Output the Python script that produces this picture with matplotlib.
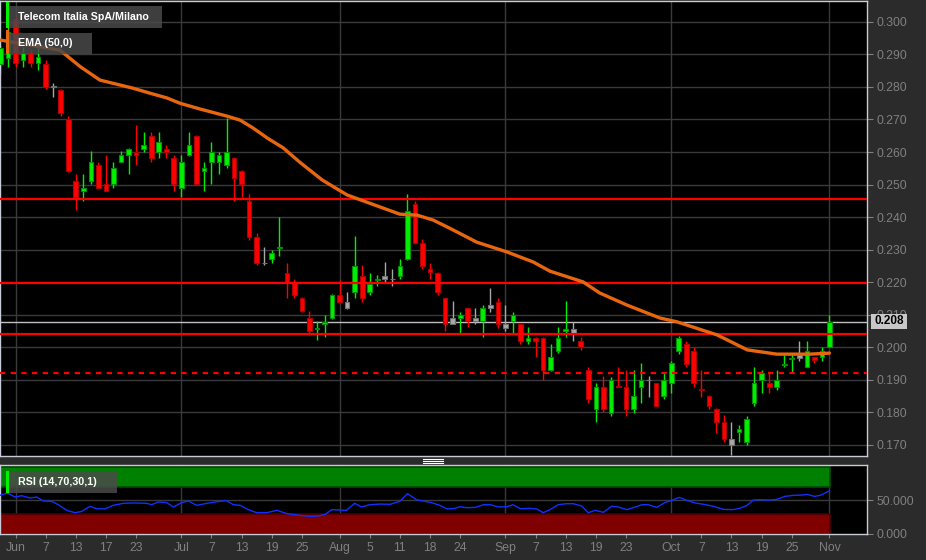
import numpy as np
import matplotlib.pyplot as plt
from matplotlib.patches import Rectangle
from matplotlib.lines import Line2D

plt.rcParams['font.family'] = ['Liberation Sans', 'DejaVu Sans']

# daily candles, index 0 = 1 Jun (trading days), two earlier days cut off at left
idx = np.arange(-2, 109)
opens = [0.2870, 0.2890, 0.3010, 0.2883, 0.2903, 0.2872, 0.2870, 0.2801, 0.2790, 0.2700,
         0.2511, 0.2481, 0.2511, 0.2560, 0.2501, 0.2501, 0.2570, 0.2590, 0.2600, 0.2610,
         0.2650, 0.2600, 0.2610, 0.2581, 0.2490, 0.2590, 0.2650, 0.2541, 0.2570, 0.2570,
         0.2560, 0.2581, 0.2541, 0.2450, 0.2340, 0.2260, 0.2270, 0.2306, 0.2229, 0.2201,
         0.2151, 0.2090, 0.2057, 0.2072, 0.2091, 0.2161, 0.2120, 0.2171, 0.2219, 0.2171,
         0.2207, 0.2219, 0.2209, 0.2220, 0.2270, 0.2440, 0.2319, 0.2240, 0.2229, 0.2150,
         0.2089, 0.2091, 0.2120, 0.2091, 0.2081, 0.2130, 0.2140, 0.2060, 0.2081, 0.2071,
         0.2020, 0.2030, 0.2030, 0.1930, 0.1990, 0.2051, 0.2045, 0.2019, 0.1930, 0.1810,
         0.1879, 0.1799, 0.1882, 0.1879, 0.1810, 0.1879, 0.1900, 0.1889, 0.1850, 0.1889,
         0.1990, 0.2010, 0.1990, 0.1872, 0.1850, 0.1810, 0.1770, 0.1699, 0.1740, 0.1709,
         0.1830, 0.1900, 0.1889, 0.1879, 0.1946, 0.1965, 0.1975, 0.1940, 0.1971, 0.1971,
         0.2000]
highs = [0.2930, 0.3060, 0.3020, 0.2923, 0.2917, 0.2923, 0.2882, 0.2812, 0.2795, 0.2711,
         0.2532, 0.2532, 0.2603, 0.2570, 0.2590, 0.2570, 0.2603, 0.2612, 0.2683, 0.2661,
         0.2661, 0.2661, 0.2621, 0.2590, 0.2590, 0.2661, 0.2652, 0.2570, 0.2631, 0.2600,
         0.2705, 0.2585, 0.2545, 0.2470, 0.2350, 0.2309, 0.2300, 0.2399, 0.2260, 0.2210,
         0.2155, 0.2111, 0.2081, 0.2099, 0.2163, 0.2207, 0.2169, 0.2342, 0.2253, 0.2229,
         0.2222, 0.2261, 0.2240, 0.2270, 0.2471, 0.2450, 0.2332, 0.2260, 0.2231, 0.2152,
         0.2142, 0.2109, 0.2122, 0.2120, 0.2130, 0.2181, 0.2150, 0.2130, 0.2109, 0.2073,
         0.2061, 0.2031, 0.2032, 0.2010, 0.2061, 0.2143, 0.2079, 0.2031, 0.1939, 0.1889,
         0.1912, 0.1910, 0.1939, 0.1930, 0.1930, 0.1951, 0.1912, 0.1890, 0.1920, 0.1959,
         0.2035, 0.2020, 0.2000, 0.1930, 0.1852, 0.1812, 0.1791, 0.1770, 0.1760, 0.1790,
         0.1939, 0.1930, 0.1920, 0.1930, 0.1982, 0.1982, 0.2020, 0.2020, 0.1971, 0.2000,
         0.2099]
lows = [0.2840, 0.2860, 0.2861, 0.2862, 0.2862, 0.2852, 0.2793, 0.2769, 0.2711, 0.2538,
        0.2422, 0.2450, 0.2501, 0.2488, 0.2479, 0.2490, 0.2568, 0.2531, 0.2560, 0.2600,
        0.2570, 0.2581, 0.2581, 0.2480, 0.2461, 0.2588, 0.2499, 0.2480, 0.2501, 0.2531,
        0.2550, 0.2450, 0.2461, 0.2330, 0.2253, 0.2253, 0.2260, 0.2281, 0.2151, 0.2151,
        0.2108, 0.2038, 0.2023, 0.2033, 0.2088, 0.2137, 0.2118, 0.2150, 0.2140, 0.2161,
        0.2188, 0.2201, 0.2188, 0.2209, 0.2268, 0.2319, 0.2240, 0.2209, 0.2161, 0.2050,
        0.2071, 0.2041, 0.2063, 0.2071, 0.2031, 0.2109, 0.2060, 0.2051, 0.2041, 0.2009,
        0.2009, 0.1971, 0.1900, 0.1928, 0.1982, 0.2033, 0.2020, 0.1992, 0.1830, 0.1769,
        0.1802, 0.1789, 0.1877, 0.1789, 0.1799, 0.1830, 0.1848, 0.1819, 0.1840, 0.1859,
        0.1979, 0.1939, 0.1879, 0.1848, 0.1810, 0.1738, 0.1709, 0.1669, 0.1709, 0.1699,
        0.1820, 0.1859, 0.1859, 0.1869, 0.1939, 0.1922, 0.1959, 0.1940, 0.1951, 0.1959,
        0.2000]
closes = [0.2920, 0.2970, 0.2873, 0.2903, 0.2872, 0.2891, 0.2801, 0.2801, 0.2721, 0.2541,
          0.2461, 0.2490, 0.2570, 0.2490, 0.2481, 0.2550, 0.2590, 0.2610, 0.2590, 0.2621,
          0.2581, 0.2631, 0.2600, 0.2501, 0.2570, 0.2621, 0.2501, 0.2550, 0.2600, 0.2590,
          0.2600, 0.2520, 0.2501, 0.2340, 0.2260, 0.2260, 0.2290, 0.2309, 0.2201, 0.2161,
          0.2111, 0.2050, 0.2060, 0.2079, 0.2161, 0.2140, 0.2140, 0.2250, 0.2150, 0.2194,
          0.2209, 0.2209, 0.2209, 0.2250, 0.2420, 0.2321, 0.2251, 0.2231, 0.2171, 0.2071,
          0.2071, 0.2099, 0.2081, 0.2081, 0.2120, 0.2120, 0.2071, 0.2071, 0.2099, 0.2020,
          0.2030, 0.2020, 0.1930, 0.1969, 0.2030, 0.2055, 0.2055, 0.2002, 0.1840, 0.1879,
          0.1810, 0.1900, 0.1879, 0.1810, 0.1850, 0.1900, 0.1900, 0.1820, 0.1900, 0.1951,
          0.2030, 0.1949, 0.1889, 0.1869, 0.1820, 0.1770, 0.1719, 0.1719, 0.1750, 0.1780,
          0.1889, 0.1920, 0.1879, 0.1900, 0.1949, 0.1968, 0.1968, 0.1990, 0.1961, 0.1989,
          0.2079]

# EMA(50)
ema_x = [-2.0, 5.9, 8.6, 11.2, 15.6, 17.8, 20.1, 21.8, 24.5, 28.1, 29.8, 31.5, 33.4, 35.5,
         37.7, 40.7, 44.0, 46.6, 51.0, 53.3, 55.4, 57.6, 61.2, 65.2, 68.7, 70.9, 75.3, 77.5,
         81.1, 85.5, 87.8, 89.9, 93.1, 97.1, 101.0, 105.4, 108.0]
ema_v = [0.2944, 0.2913, 0.2862, 0.2821, 0.2796, 0.2781, 0.2766, 0.2750, 0.2732, 0.2710,
         0.2698, 0.2674, 0.2643, 0.2613, 0.2569, 0.2514, 0.2468, 0.2446, 0.2409, 0.2406,
         0.2391, 0.2366, 0.2323, 0.2293, 0.2262, 0.2234, 0.2201, 0.2167, 0.2130, 0.2090,
         0.2078, 0.2062, 0.2038, 0.1992, 0.1979, 0.1979, 0.1982]

levels = [0.2456, 0.2198, 0.2040]
dashed_level = 0.1922

# RSI(14)
rsi_x = [-2.06, -1.09, -0.07, 0.82, 1.92, 2.81, 3.69, 4.8, 5.68, 6.79, 7.9, 8.78, 9.88, 10.77,
         11.87, 12.98, 14.3, 15.6, 17.4, 18.07, 18.95, 20.06, 20.94, 22.05, 22.93, 24.04, 25.4,
         27.1, 28.0, 28.9, 29.8, 30.9, 32.0, 33.3, 34.7, 36.0, 37.7, 39.1, 40.2, 41.1, 41.95,
         43.9, 45.0, 45.9, 47.0, 48.4, 49.7, 51.0, 52.0, 53.2, 54.3, 55.2, 56.3, 57.2, 58.1,
         59.0, 59.9, 61.0, 62.1, 63.0, 64.1, 65.2, 66.0, 67.0, 68.3, 69.2, 70.0, 70.9, 72.0,
         73.1, 74.0, 75.1, 76.0, 76.9, 78.0, 79.1, 79.97, 81.1, 81.97, 83.1, 83.96, 85.1, 86.2,
         87.1, 88.07, 89.05, 90.2, 91.3, 92.6, 93.9, 95.2, 96.1, 97.0, 97.9, 98.8, 100.1, 101.0,
         102.1, 103.2, 104.5, 104.97, 106.05, 106.9, 108.0]
rsi_v = [57.5, 60.9, 54.9, 56.9, 53.4, 54.9, 49.0, 48.5, 43.4, 35.0, 31.4, 33.4, 41.0, 37.4,
         37.0, 42.5, 45.5, 46.0, 45.5, 43.5, 47.5, 46.5, 40.0, 46.5, 49.0, 42.5, 45.5,
         48.5, 49.5, 43.4, 42.5, 36.0, 31.4, 31.4, 35.0, 30.0, 27.5, 26.0, 26.5, 29.0, 36.0,
         35.0, 45.5, 40.0, 43.4, 44.4, 44.0, 48.5, 59.9, 50.9, 48.5, 46.5, 42.5, 37.4, 37.4,
         40.4, 38.9, 39.4, 43.4, 43.4, 40.0, 40.4, 43.4, 37.4, 37.9, 37.0, 31.4, 36.0, 43.4,
         44.9, 44.9, 41.5, 31.4, 35.0, 32.0, 41.0, 40.0, 36.0, 38.9, 43.4, 43.4, 39.4, 46.9,
         49.9, 54.4, 49.9, 46.0, 44.0, 41.0, 36.5, 36.0, 38.0, 42.0, 50.4, 50.9, 50.4, 51.4,
         55.9, 57.4, 57.9, 58.9, 55.9, 57.9, 64.4]

tick_idx = [0, 4, 8, 12, 16, 22, 26, 30, 34, 38, 43, 47, 51, 55, 59, 65, 69, 73, 77, 81,
            87, 91, 95, 99, 103, 108]
tick_lab = ['Jun', '7', '13', '17', '23', 'Jul', '7', '13', '19', '25', 'Aug', '5', '11', '18',
            '24', 'Sep', '7', '13', '19', '23', 'Oct', '7', '13', '19', '25', 'Nov']
month_idx = [0, 22, 43, 65, 87, 108]

W, H = 926, 560
BG = '#2b2b2b'
GRID = '#3a3a3a'
TXT = '#808080'
SPINE = '#c8ccd8'

fig = plt.figure(figsize=(W / 100, H / 100), dpi=100, facecolor=BG)
ax = fig.add_axes([0, 104 / H, 867 / W, 455 / H])
rx = fig.add_axes([0, 26.3 / H, 867 / W, 68.4 / H])

xlim = (-2.06, 112.98)
for a in (ax, rx):
    a.set_facecolor('black')
    a.set_xlim(*xlim)
    for s in a.spines.values():
        s.set_color(SPINE)
        s.set_linewidth(1)
    a.yaxis.tick_right()
    a.tick_params(axis='y', colors=TXT, length=4, labelsize=8.8, pad=3)
    for m in month_idx:
        a.axvline(m, color=GRID, lw=1, zorder=0.5)

# price panel
ax.set_ylim(0.1666, 0.3064)
yt = np.arange(0.17, 0.3001, 0.01)
ax.set_yticks(yt)
ax.set_yticklabels([f'{v:.3f}' for v in yt])
ax.set_xticks([])
ax.yaxis.grid(True, color=GRID, lw=1)
ax.set_axisbelow(True)

opens = np.array(opens)
closes = np.array(closes)
for k, x in enumerate(idx):
    o, c = opens[k], closes[k]
    if k > 0 and np.isclose(c, closes[k - 1]):
        fill, edge = '#a8a8a8', '#707070'
    elif c >= o:
        fill, edge = '#00f000', '#009000'
    else:
        fill, edge = '#ff0000', '#b00000'
    ax.vlines(x, lows[k], highs[k], color=fill, lw=1, zorder=2)
    bottom = min(o, c)
    height = max(abs(c - o), 0.00004)
    ax.bar(x, height, bottom=bottom, width=0.62, color=fill, edgecolor=edge, lw=0.8, zorder=3)

last = closes[-1]
ax.axhline(last, color='#c0c0c0', lw=1, zorder=1.5)
for lv in levels:
    ax.axhline(lv, color='#ff0000', lw=1.6, zorder=4)
ax.axhline(dashed_level, color='#ff0000', lw=1.6, ls=(0, (2.4, 2.4)), zorder=4)
ax.plot(ema_x, ema_v, color='#e8660e', lw=2.4, zorder=5, solid_capstyle='round')

# rsi panel
rx.set_ylim(0, 102.4)
rx.set_yticks([0, 50])
rx.set_yticklabels(['0.000', '50.000'])
rx.axhline(50, color=GRID, lw=1, zorder=0.5)
rx.add_patch(Rectangle((xlim[0], 70), 108.07 - xlim[0], 30, facecolor='#008000',
                       edgecolor='#004a00', lw=1.2, zorder=1))
rx.add_patch(Rectangle((xlim[0], 0), 108.07 - xlim[0], 30, facecolor='#800000',
                       edgecolor='#4a0000', lw=1.2, zorder=1))
rx.plot(rsi_x, rsi_v, color='#1030ff', lw=1, zorder=3)
rx.set_xticks(tick_idx)
rx.set_xticklabels(tick_lab)
rx.tick_params(axis='x', colors=TXT, length=3, labelsize=8.8, pad=3)


def fx(x):
    return x / W


def fy(y):
    return 1 - y / H


def box(x0, y0, x1, y1, color, alpha=1.0, z=10):
    fig.add_artist(Rectangle((fx(x0), fy(y1)), fx(x1 - x0), (y1 - y0) / H,
                             transform=fig.transFigure, facecolor=color, alpha=alpha,
                             edgecolor='none', zorder=z))


# legend boxes
box(9, 6, 162, 28, '#4a4a4a', 0.85)
box(6, 2, 8.5, 28, '#00f000', 1, 11)
fig.text(fx(18), fy(17), 'Telecom Italia SpA/Milano', color='white', fontsize=7.7,
         weight='bold', va='center', zorder=12)
box(9, 33, 92, 54, '#4a4a4a', 0.85)
box(5.5, 30, 8.5, 54, '#e8660e', 1, 11)
fig.text(fx(18), fy(43.5), 'EMA (50,0)', color='white', fontsize=7.7,
         weight='bold', va='center', zorder=12)
box(6, 471, 117, 493, '#4a4a4a', 0.85)
box(6, 471, 8.5, 493, '#00f000', 1, 11)
fig.text(fx(18), fy(482), 'RSI (14,70,30,1)', color='white', fontsize=7.7,
         weight='bold', va='center', zorder=12)

# last price tag
box(871, 314, 907, 329, '#c8c8c8', 1, 10)
fig.text(fx(889), fy(321.5), f'{last:.3f}', color='black', fontsize=8.5, weight='bold',
         ha='center', va='center', zorder=12)

# splitter handle
for yy in (459.3, 461.3, 463.3):
    fig.add_artist(Line2D([fx(423), fx(443)], [fy(yy), fy(yy)], transform=fig.transFigure,
                          color='white', lw=0.8, zorder=10))

fig.savefig('out.png', dpi=100, facecolor=BG)
